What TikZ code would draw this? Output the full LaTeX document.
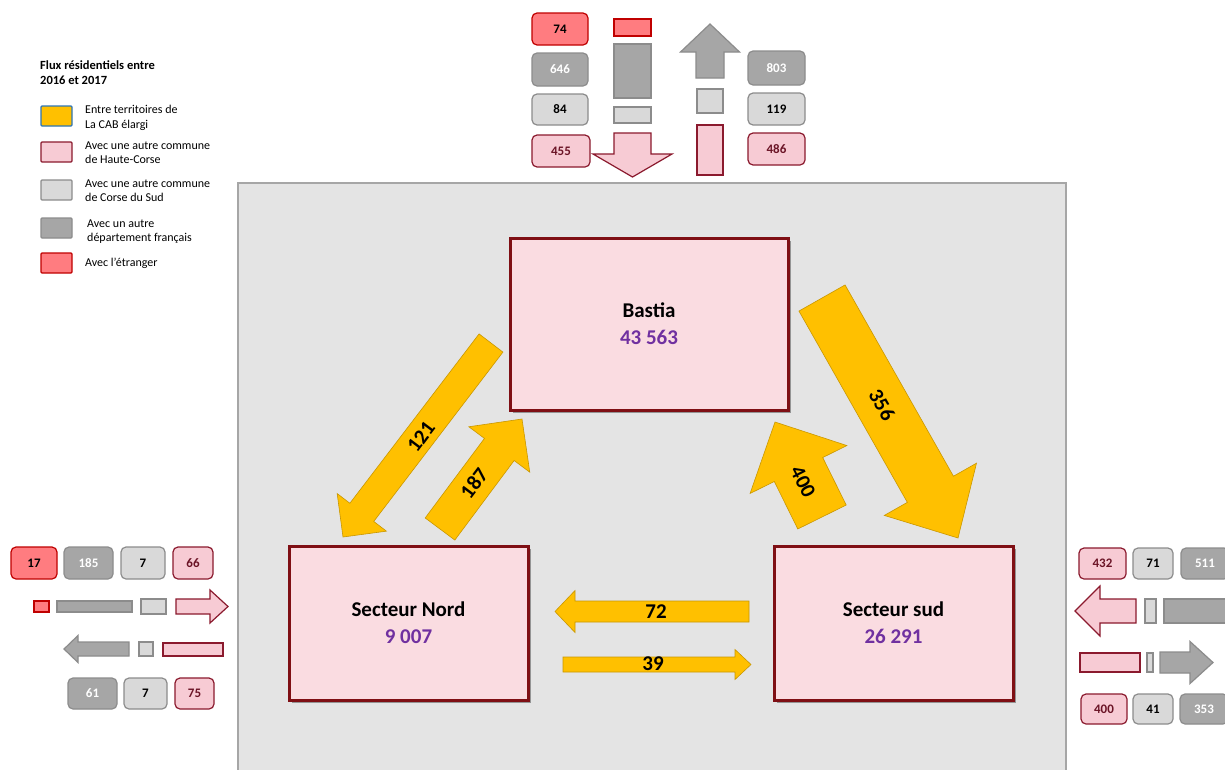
\documentclass[tikz,border=0pt]{standalone}
\usepackage{fontspec}
\setmainfont{Carlito}
\usetikzlibrary{calc,shadows}
\definecolor{cYel}{HTML}{FFC000}
\definecolor{cYelB}{HTML}{C99700}
\definecolor{cPk}{HTML}{F7CBD4}
\definecolor{cPkB}{HTML}{8B1A2E}
\definecolor{cPkT}{HTML}{6B1426}
\definecolor{cLg}{HTML}{D9D9D9}
\definecolor{cDg}{HTML}{A6A6A6}
\definecolor{cGrB}{HTML}{8C8C8C}
\definecolor{cRd}{HTML}{FF7C80}
\definecolor{cRdB}{HTML}{C00000}
\definecolor{cPanel}{HTML}{E4E4E4}
\definecolor{cPanelB}{HTML}{A6A6A6}
\definecolor{cBox}{HTML}{FADCE1}
\definecolor{cBoxB}{HTML}{7F0F14}
\definecolor{cPur}{HTML}{7030A0}
\definecolor{cBlue}{HTML}{2E75B6}
% style, tail, tip, shaft half width, head half width, head length
\newcommand\blockarrow[6]{%
  \coordinate (#3-hb) at ($(#3)!#6!(#2)$);
  \path[#1] ($(#2)!#4!90:(#3)$) -- ($(#3-hb)!#4!90:(#3)$) -- ($(#3-hb)!#5!90:(#3)$) -- (#3)
    -- ($(#3-hb)!#5!-90:(#3)$) -- ($(#3-hb)!#4!-90:(#3)$) -- ($(#2)!#4!-90:(#3)$) -- cycle;
}
\tikzset{
  yel/.style={fill=cYel, draw=cYelB, line width=0.6pt, line join=miter},
  pk/.style={fill=cPk, draw=cPkB, line width=1.2pt, text=cPkT},
  lg/.style={fill=cLg, draw=cGrB, line width=1.2pt, text=black},
  dg/.style={fill=cDg, draw=cGrB, line width=1.2pt, text=white},
  rd/.style={fill=cRd, draw=cRdB, line width=1.2pt, text=black},
  nb/.style={rounded corners=5pt, inner sep=0pt, font=\bfseries\fontsize{13}{13}\selectfont},
  mainbox/.style={fill=cBox, draw=cBoxB, line width=3pt, align=center,
    drop shadow={shadow xshift=2.5pt, shadow yshift=-2.5pt, opacity=0.35, fill=black},
    font=\bfseries\fontsize{21}{27}\selectfont},
  lab/.style={font=\bfseries\fontsize{21}{21}\selectfont, inner sep=0pt},
  legbox/.style={rounded corners=1pt, line width=1.2pt},
  legtxt/.style={anchor=west, align=left, inner sep=0pt, font=\fontsize{12}{14.5}\selectfont},
}
\begin{document}
\begin{tikzpicture}[x=1pt,y=-1pt]
\useasboundingbox (0,0) rectangle (1225,769);
\clip (0,0) rectangle (1225,769);
\fill[white] (0,0) rectangle (1225,769);

% ---------- legend ----------
\node[anchor=west, align=left, inner sep=0pt, font=\bfseries\fontsize{12.5}{15}\selectfont] (title) at (40,72.5) {Flux résidentiels entre\\2016 et 2017};
\path[legbox, fill=cYel, draw=cBlue] (41,106) rectangle (72,126);
\node[legtxt] (l1) at (85,118) {Entre territoires de\\La CAB élargi};
\path[legbox, pk] (41,142) rectangle (72,162);
\node[legtxt] (l2) at (85,152.5) {Avec une autre commune\\de Haute-Corse};
\path[legbox, lg] (41,180) rectangle (72,200);
\node[legtxt] (l3) at (85,190.5) {Avec une autre commune\\de Corse du Sud};
\path[legbox, dg] (41,218) rectangle (72,238);
\node[legtxt] (l4) at (87,231.5) {Avec un autre\\département  français};
\path[legbox, rd] (41,253) rectangle (72,273);
\node[legtxt] (l5) at (85,263) {Avec l’étranger};

% ---------- panel ----------
\path[fill=cPanel, draw=cPanelB, line width=2pt] (238,183) rectangle (1066,790);

% ---------- main boxes ----------
\node[mainbox, minimum width=278, minimum height=172] (bastia) at (649,324) {Bastia\\\textcolor{cPur}{43 563}};
\node[mainbox, minimum width=239, minimum height=154] (nord) at (408.5,623) {Secteur Nord\\\textcolor{cPur}{9 007}};
\node[mainbox, minimum width=239, minimum height=154] (sud) at (893.5,623) {Secteur sud\\\textcolor{cPur}{26 291}};

% ---------- yellow arrows ----------
\coordinate (a121t) at (491,343); \coordinate (a121p) at (343,537);
\blockarrow{yel}{a121t}{a121p}{15pt}{31pt}{31pt}
\node[lab, rotate=53] (n121) at (421,437) {121};
\coordinate (a187t) at (440,529); \coordinate (a187p) at (522,419);
\blockarrow{yel}{a187t}{a187p}{18.5pt}{38pt}{38pt}
\node[lab, rotate=53] (n187) at (474,483) {187};
\coordinate (a356t) at (822,298); \coordinate (a356p) at (958,538);
\blockarrow{yel}{a356t}{a356p}{26.5pt}{53pt}{56pt}
\node[lab, rotate=-60] (n356) at (882,405) {356};
\coordinate (a400t) at (822,517); \coordinate (a400p) at (775,422);
\blockarrow{yel}{a400t}{a400p}{27pt}{54pt}{53pt}
\node[lab, rotate=-63] (n400) at (803,482) {400};
\coordinate (a72t) at (749,611.5); \coordinate (a72p) at (555,611.5);
\blockarrow{yel}{a72t}{a72p}{10.5pt}{21pt}{20pt}
\node[lab] (n72) at (656,612) {72};
\coordinate (a39t) at (563,664.5); \coordinate (a39p) at (751,664.5);
\blockarrow{yel}{a39t}{a39p}{7.5pt}{15pt}{16pt}
\node[lab] (n39) at (653,664) {39};

% ---------- top flows ----------
\node[nb, rd, minimum width=56, minimum height=32] (t74) at (560,29) {74};
\node[nb, dg, minimum width=56, minimum height=33] (t646) at (560,69.5) {646};
\node[nb, lg, minimum width=56, minimum height=31] (t84) at (560,109.5) {84};
\node[nb, pk, minimum width=58, minimum height=32] (t455) at (561,151) {455};
\path[rd] (614,19) rectangle (651,36);
\path[dg] (614,44) rectangle (651,98);
\path[lg] (614,107) rectangle (651,123);
\coordinate (tdt) at (632.5,133); \coordinate (tdp) at (632.5,177);
\blockarrow{pk}{tdt}{tdp}{18.5pt}{39.5pt}{23pt}
\coordinate (tut) at (710,78); \coordinate (tup) at (710,24);
\blockarrow{dg}{tut}{tup}{14pt}{29.5pt}{28pt}
\path[lg] (697,89) rectangle (723,113);
\path[pk] (697,125) rectangle (723,175);
\node[nb, dg, minimum width=57, minimum height=34] (t803) at (776.5,68) {803};
\node[nb, lg, minimum width=57, minimum height=32] (t119) at (776.5,109) {119};
\node[nb, pk, minimum width=57, minimum height=32] (t486) at (776.5,149) {486};

% ---------- left flows ----------
\node[nb, rd, minimum width=46, minimum height=32] (l17) at (34,563) {17};
\node[nb, dg, minimum width=49, minimum height=32] (l185) at (88.5,563) {185};
\node[nb, lg, minimum width=44, minimum height=32] (l7a) at (143,563) {7};
\node[nb, pk, minimum width=40, minimum height=32] (l66) at (193,563) {66};
\path[rd] (34,601) rectangle (49,612);
\path[dg] (57,601) rectangle (132,612);
\path[lg] (141,599) rectangle (166,614);
\coordinate (lrt) at (176,606.5); \coordinate (lrp) at (228,606.5);
\blockarrow{pk}{lrt}{lrp}{7.5pt}{16.5pt}{18pt}
\coordinate (llt) at (129,649); \coordinate (llp) at (64,649);
\blockarrow{dg}{llt}{llp}{7pt}{13.5pt}{14pt}
\path[lg] (139,642) rectangle (153,656);
\path[pk] (163,643) rectangle (223,656);
\node[nb, dg, minimum width=49, minimum height=31] (l61) at (92.5,693.5) {61};
\node[nb, lg, minimum width=43, minimum height=31] (l7b) at (145.5,693.5) {7};
\node[nb, pk, minimum width=39, minimum height=31] (l75) at (194.5,693.5) {75};

% ---------- right flows ----------
\node[nb, pk, minimum width=47, minimum height=31] (r432) at (1102.5,563.5) {432};
\node[nb, lg, minimum width=40, minimum height=31] (r71) at (1153,563.5) {71};
\node[nb, dg, minimum width=48, minimum height=31] (r511) at (1205,563.5) {511};
\coordinate (rlt) at (1136,611); \coordinate (rlp) at (1075,611);
\blockarrow{pk}{rlt}{rlp}{12pt}{25pt}{25pt}
\path[lg] (1145,599) rectangle (1156,623);
\path[dg] (1164,599) rectangle (1232,623);
\path[pk] (1080,653) rectangle (1140,672);
\path[lg] (1147,653) rectangle (1153,672);
\coordinate (rrt) at (1160,662.5); \coordinate (rrp) at (1213,662.5);
\blockarrow{dg}{rrt}{rrp}{10.5pt}{21pt}{23pt}
\node[nb, pk, minimum width=46, minimum height=30] (r400) at (1104,709) {400};
\node[nb, lg, minimum width=40, minimum height=30] (r41) at (1153,709) {41};
\node[nb, dg, minimum width=48, minimum height=30] (r353) at (1204,709) {353};
\end{tikzpicture}
\end{document}
